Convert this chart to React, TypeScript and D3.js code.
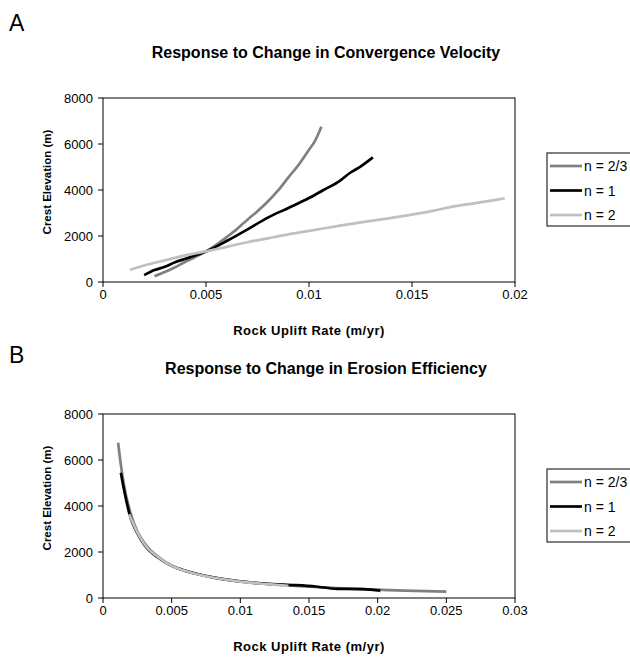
import React from "react";
import * as d3 from "d3";

type Pt = [number, number];

// Panel A: Response to Change in Convergence Velocity
const seriesNames = ["n = 2/3", "n = 1", "n = 2"];
const seriesColors = ["#808080", "#000000", "#c0c0c0"];

const aN23: Pt[] = [
  [0.0025, 250], [0.003, 430], [0.0035, 640], [0.004, 880], [0.0045, 1100],
  [0.005, 1330], [0.0055, 1620], [0.006, 1950], [0.0065, 2300], [0.007, 2700],
  [0.0075, 3080], [0.008, 3500], [0.0085, 3980], [0.009, 4550], [0.0095, 5100],
  [0.01, 5750], [0.0103, 6150], [0.0106, 6750],
];
const aN1: Pt[] = [
  [0.002, 300], [0.0025, 520], [0.003, 660], [0.0035, 860], [0.004, 1010],
  [0.0045, 1160], [0.005, 1330], [0.006, 1780], [0.007, 2280], [0.008, 2800],
  [0.009, 3220], [0.01, 3650], [0.0107, 4000], [0.0115, 4400], [0.012, 4750],
  [0.0125, 5020], [0.0131, 5420],
];
const aN2: Pt[] = [
  [0.0013, 530], [0.002, 720], [0.003, 940], [0.004, 1160], [0.005, 1330],
  [0.006, 1530], [0.007, 1730], [0.008, 1900], [0.009, 2070], [0.01, 2220],
  [0.0115, 2450], [0.013, 2660], [0.0144, 2840], [0.016, 3090], [0.0171, 3300],
  [0.018, 3420], [0.019, 3560], [0.0195, 3640],
];

// Panel B: Response to Change in Erosion Efficiency
const bN23: Pt[] = [
  [0.0011, 6750], [0.0013, 5800], [0.0015, 5000], [0.002, 3700], [0.0025, 2900],
  [0.003, 2400], [0.0035, 2060], [0.004, 1800], [0.005, 1400], [0.006, 1180],
  [0.007, 1020], [0.008, 900], [0.01, 710], [0.012, 610], [0.014, 530],
  [0.016, 460], [0.018, 400], [0.02, 360], [0.022, 320], [0.025, 280],
];
const bN1: Pt[] = [
  [0.0013, 5450], [0.0015, 4800], [0.002, 3500], [0.0025, 2820], [0.003, 2320],
  [0.004, 1760], [0.005, 1400], [0.006, 1180], [0.007, 1020], [0.008, 900],
  [0.01, 720], [0.012, 610], [0.014, 560], [0.0155, 500], [0.017, 400],
  [0.019, 390], [0.0202, 320],
];
const bN2: Pt[] = [
  [0.0019, 3640], [0.002, 3500], [0.0025, 2850], [0.003, 2350], [0.004, 1780],
  [0.005, 1400], [0.006, 1170], [0.007, 1010], [0.008, 890], [0.01, 710],
  [0.012, 600], [0.0135, 530],
];

const yTicks = [0, 2000, 4000, 6000, 8000];
const aXTicks = [0, 0.005, 0.01, 0.015, 0.02];
const bXTicks = [0, 0.005, 0.01, 0.015, 0.02, 0.025, 0.03];

const FONT = "'Liberation Sans', Arial, Helvetica, sans-serif";

interface PanelProps {
  letter: string;
  letterY: number;
  title: string;
  top: number;
  xMax: number;
  xTicks: number[];
  series: Pt[][];
}

function Panel({ letter, letterY, title, top, xMax, xTicks, series }: PanelProps) {
  const left = 103;
  const right = 515;
  const pTop = top + 98;
  const pBottom = top + 282;
  const x = d3.scaleLinear().domain([0, xMax]).range([left, right]);
  const y = d3.scaleLinear().domain([0, 8000]).range([pBottom, pTop]);
  const line = d3
    .line<Pt>()
    .x((d) => x(d[0]))
    .y((d) => y(d[1]))
    .curve(d3.curveMonotoneX);
  const legTop = top + 153;
  return (
    <g>
      <text x={9} y={letterY} fontSize={23} fontFamily={FONT} fill="#000">
        {letter}
      </text>
      <text
        x={326}
        y={top + 58}
        fontSize={16}
        fontWeight="bold"
        fontFamily={FONT}
        textAnchor="middle"
        fill="#000"
      >
        {title}
      </text>
      {/* plot frame */}
      <rect
        x={left}
        y={pTop}
        width={right - left}
        height={pBottom - pTop}
        fill="none"
        stroke="#000"
        strokeWidth={1}
      />
      {yTicks.map((t) => (
        <g key={"y" + t}>
          <line x1={left - 5} x2={left} y1={y(t)} y2={y(t)} stroke="#000" />
          <text
            x={left - 10}
            y={y(t) + 4.5}
            fontSize={13}
            fontFamily={FONT}
            textAnchor="end"
            fill="#000"
          >
            {t}
          </text>
        </g>
      ))}
      {xTicks.map((t) => (
        <g key={"x" + t}>
          <line x1={x(t)} x2={x(t)} y1={pBottom} y2={pBottom + 5} stroke="#000" />
          <text
            x={x(t)}
            y={pBottom + 17}
            fontSize={13}
            fontFamily={FONT}
            textAnchor="middle"
            fill="#000"
          >
            {t}
          </text>
        </g>
      ))}
      <text
        transform={`translate(51,${(pTop + pBottom) / 2 - 8}) rotate(-90)`}
        fontSize={11.5}
        fontWeight="bold"
        fontFamily={FONT}
        textAnchor="middle"
        fill="#000"
      >
        Crest Elevation (m)
      </text>
      <text
        x={(left + right) / 2}
        y={pBottom + 53}
        fontSize={13}
        fontWeight="bold"
        fontFamily={FONT}
        textAnchor="middle"
        letterSpacing={0.5}
        fill="#000"
      >
        Rock Uplift Rate (m/yr)
      </text>
      {series.map((s, i) => (
        <path
          key={"s" + i}
          d={line(s) || ""}
          fill="none"
          stroke={seriesColors[i]}
          strokeWidth={2.7}
          strokeLinejoin="round"
        />
      ))}
      {/* legend */}
      <rect x={547} y={legTop} width={95} height={73} fill="#fff" stroke="#000" />
      {seriesNames.map((n, i) => (
        <g key={"l" + i}>
          <line
            x1={550}
            x2={582}
            y1={legTop + 13 + i * 24.5}
            y2={legTop + 13 + i * 24.5}
            stroke={seriesColors[i]}
            strokeWidth={2.7}
          />
          <text
            x={584}
            y={legTop + 18 + i * 24.5}
            fontSize={14}
            fontFamily={FONT}
            fill="#000"
          >
            {n}
          </text>
        </g>
      ))}
    </g>
  );
}

export default function App() {
  return (
    <div style={{ position: "absolute", left: 0, top: 0 }}>
      <svg width={630} height={657} style={{ display: "block", background: "#fff" }}>
        <rect width={630} height={657} fill="#fff" />
        <Panel
          letter="A"
          letterY={31}
          title="Response to Change in Convergence Velocity"
          top={0}
          xMax={0.02}
          xTicks={aXTicks}
          series={[aN23, aN1, aN2]}
        />
        <Panel
          letter="B"
          letterY={363}
          title="Response to Change in Erosion Efficiency"
          top={316}
          xMax={0.03}
          xTicks={bXTicks}
          series={[bN23, bN1, bN2]}
        />
      </svg>
    </div>
  );
}
